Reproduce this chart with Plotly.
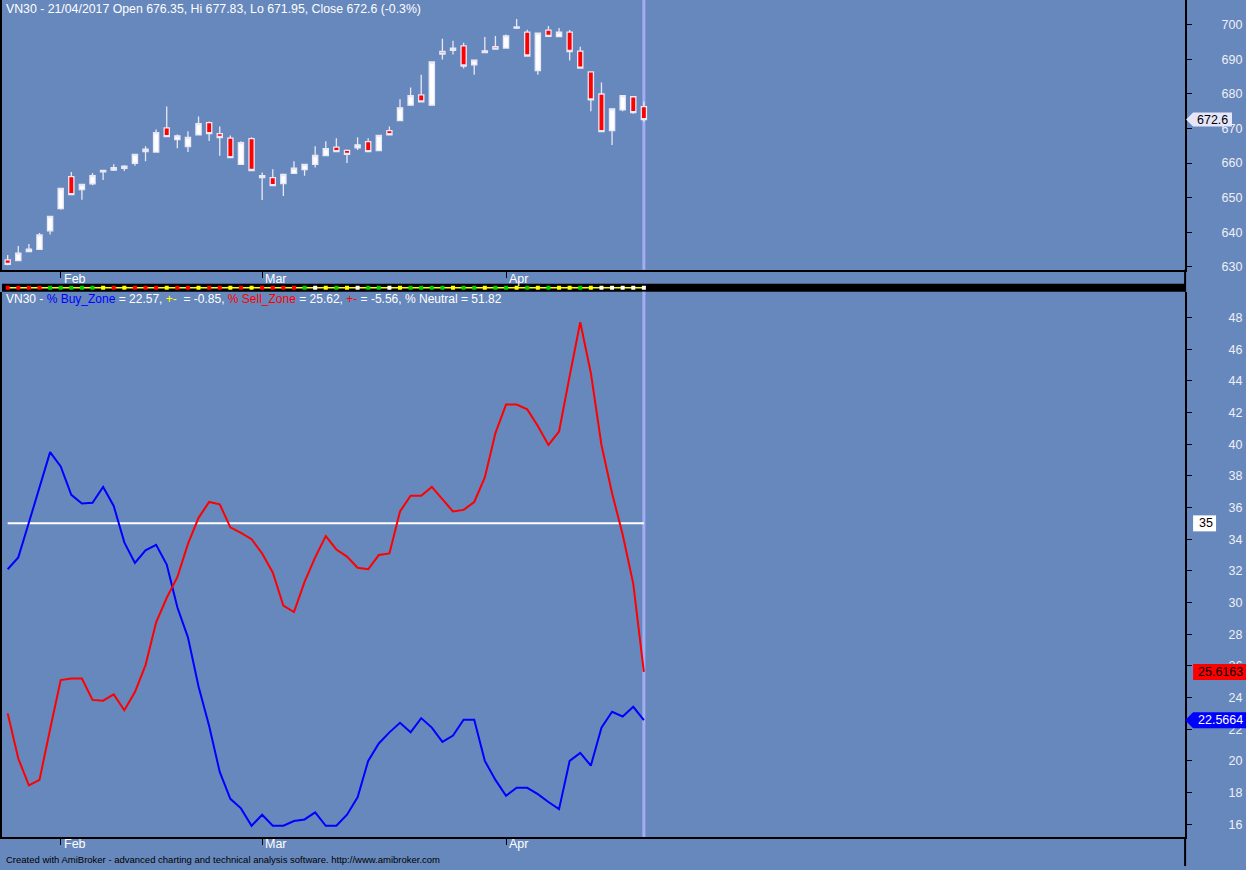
import plotly.graph_objects as go

W, H = 1246, 870

symbol = "VN30"
date_str = "21/04/2017"
month_labels = ["Feb", "Mar", "Apr"]
month_start = [5, 24, 47]

opens = [632.0, 631.8, 634.4, 635.0, 640.4, 646.8, 656.1, 652.3, 654.0, 657.45,
         658.0, 658.5, 659.9, 664.0, 663.2, 670.2, 666.8, 664.8, 668.2, 671.7,
         668.5, 667.2, 659.6, 667.1, 656.4, 655.8, 654.1, 657.0, 658.1, 659.6,
         662.2, 664.6, 663.7, 664.4, 666.2, 663.6, 669.4, 672.3, 676.75, 679.75,
         676.75, 692.3, 692.6, 693.9, 688.4, 692.0, 693.7, 693.3, 699.05, 697.9,
         686.8, 698.5, 696.6, 697.9, 692.4, 686.4, 680.0, 669.4, 675.4, 679.2,
         676.35]
highs = [633.4, 636.0, 636.6, 639.8, 644.6, 652.8, 657.4, 653.9, 657.1, 658.0,
         659.7, 659.4, 662.6, 664.85, 669.7, 676.4, 668.3, 669.2, 673.5, 672.05,
         670.6, 668.0, 666.3, 667.45, 657.3, 658.2, 657.0, 660.5, 659.6, 664.85,
         666.3, 667.2, 663.9, 667.5, 667.2, 668.0, 670.6, 678.5, 681.85, 685.6,
         689.25, 696.0, 695.4, 694.8, 689.8, 696.5, 696.8, 697.2, 701.7, 698.6,
         697.6, 699.7, 699.1, 698.5, 693.7, 686.4, 683.3, 675.7, 679.5, 679.2,
         677.83]
lows = [630.4, 631.6, 634.3, 635.0, 639.3, 646.5, 650.9, 649.4, 653.6, 655.1,
        657.7, 657.7, 659.2, 660.5, 663.2, 667.6, 664.3, 663.2, 668.2, 666.4,
        662.1, 661.6, 659.6, 657.8, 649.3, 653.5, 650.5, 657.0, 656.3, 658.7,
        662.2, 663.3, 660.0, 663.8, 663.3, 663.6, 668.2, 672.3, 676.75, 677.7,
        676.75, 690.0, 691.4, 687.4, 685.6, 692.0, 693.0, 693.3, 698.8, 691.0,
        685.6, 696.7, 696.6, 689.7, 687.5, 675.0, 669.1, 665.2, 675.0, 674.3,
        671.95]
closes = [630.7, 633.9, 635.1, 639.2, 644.6, 652.7, 650.9, 653.8, 656.4, 657.9,
          658.7, 659.1, 662.5, 663.3, 668.8, 667.65, 667.9, 667.4, 671.4, 668.5,
          667.4, 661.6, 665.9, 657.85, 655.8, 653.5, 656.7, 658.5, 659.6, 662.2,
          664.2, 663.3, 662.5, 665.3, 663.3, 668.0, 668.2, 676.0, 679.5, 677.7,
          689.25, 691.55, 693.3, 688.1, 689.8, 692.5, 693.0, 696.8, 699.4, 691.0,
          697.6, 696.7, 697.9, 692.3, 687.5, 678.3, 669.1, 675.7, 679.5, 674.6,
          672.6]

buy_zone = [32.1, 32.85, 35.05, 37.25, 39.5, 38.6, 36.8, 36.25, 36.3, 37.3,
            36.1, 33.8, 32.5, 33.3, 33.65, 32.4, 29.7, 27.8, 24.7, 22.2,
            19.3, 17.6, 17.0, 15.9, 16.6, 15.9, 15.9, 16.2, 16.3, 16.75,
            15.9, 15.9, 16.6, 17.7, 20.0, 21.1, 21.8, 22.4, 21.8, 22.7,
            22.1, 21.2, 21.6, 22.6, 22.6, 20.0, 18.8, 17.8, 18.3, 18.3,
            17.9, 17.4, 16.95, 20.0, 20.5, 19.7, 22.1, 23.1, 22.8, 23.4164,
            22.5664]
sell_zone = [23.0, 20.15, 18.45, 18.8, 22.0, 25.1, 25.2, 25.2, 23.85, 23.8,
             24.2, 23.2, 24.35, 26.05, 28.75, 30.3, 31.6, 33.7, 35.35, 36.35,
             36.2, 34.75, 34.4, 34.0, 33.1, 31.9, 29.8, 29.4, 31.3, 32.85,
             34.2, 33.35, 32.9, 32.2, 32.1, 33.0, 33.1, 35.75, 36.75, 36.75,
             37.3, 36.5, 35.75, 35.85, 36.35, 37.9, 40.7, 42.5, 42.5, 42.2,
             41.15, 39.95, 40.8, 44.3, 47.7, 44.5, 39.95, 36.9, 34.3, 31.1763,
             25.6163]
level = 35

strip_colors = ["r", "r", "r", "r", "g", "g", "g", "g", "g", "y",
                "r", "y", "r", "r", "r", "y", "r", "r", "y", "r",
                "r", "y", "r", "y", "r", "r", "r", "r", "g", "w",
                "y", "g", "y", "w", "g", "g", "w", "y", "g", "g",
                "g", "g", "y", "g", "g", "y", "g", "g", "y", "g",
                "y", "g", "y", "y", "g", "y", "w", "w", "w", "w",
                "w"]
color_map = {"r": "#ff0000", "g": "#00d000", "y": "#ffff00", "w": "#ffffff"}

idx = list(range(len(closes)))

BG = "#6788bc"
FONT = "Liberation Sans, Arial, sans-serif"
TICKCOL = "#eef0f6"


def py(p):
    return 1 - p / H


def px(p):
    return p / W


PLOT_R = 1185
x_range = [-5.7 / 10.62, (PLOT_R - 5.7) / 10.62]

fig = go.Figure()

fig.add_trace(go.Candlestick(
    x=idx, open=opens, high=highs, low=lows, close=closes,
    increasing=dict(fillcolor="#ffffff", line=dict(color="#e8e8f6", width=1.3)),
    decreasing=dict(fillcolor="#ff0000", line=dict(color="#e8e8f6", width=1.3)),
    whiskerwidth=0, xaxis="x", yaxis="y", showlegend=False, hoverinfo="skip"))

fig.add_trace(go.Scatter(x=idx, y=[0.5] * len(idx), mode="lines",
                         line=dict(color="#ffff00", width=1.5),
                         xaxis="x2", yaxis="y2", showlegend=False, hoverinfo="skip"))
fig.add_trace(go.Scatter(x=idx, y=[0.5] * len(idx), mode="markers",
                         marker=dict(symbol="square", size=4,
                                     color=[color_map[c] for c in strip_colors],
                                     line=dict(width=0)),
                         xaxis="x2", yaxis="y2", showlegend=False, hoverinfo="skip"))

fig.add_trace(go.Scatter(x=idx, y=[level] * len(idx), mode="lines",
                         line=dict(color="#ffffff", width=2),
                         xaxis="x3", yaxis="y3", showlegend=False, hoverinfo="skip"))
fig.add_trace(go.Scatter(x=idx, y=buy_zone, mode="lines",
                         line=dict(color="#0000ff", width=2),
                         xaxis="x3", yaxis="y3", showlegend=False, hoverinfo="skip"))
fig.add_trace(go.Scatter(x=idx, y=sell_zone, mode="lines",
                         line=dict(color="#ff0000", width=2),
                         xaxis="x3", yaxis="y3", showlegend=False, hoverinfo="skip"))

xdom = [0, px(PLOT_R)]
xcommon = dict(range=x_range, domain=xdom, showgrid=False, zeroline=False,
               fixedrange=True)

fig.update_layout(
    width=W, height=H, margin=dict(l=0, r=0, t=0, b=0),
    paper_bgcolor=BG, plot_bgcolor=BG,
    font=dict(family=FONT, size=12, color=TICKCOL),
    showlegend=False,
    xaxis=dict(**xcommon, anchor="y", rangeslider=dict(visible=False),
               tickvals=month_start, ticktext=["" for _ in month_start],
               ticks="outside", ticklen=6, tickcolor="#000000", tickwidth=1,
               showline=True, linecolor="#000000", linewidth=2),
    xaxis2=dict(**xcommon, anchor="y2", showticklabels=False, ticks="",
                showline=False),
    xaxis3=dict(**xcommon, anchor="y3",
                tickvals=month_start, ticktext=["" for _ in month_start],
                ticks="outside", ticklen=6, tickcolor="#000000", tickwidth=1,
                showline=True, linecolor="#000000", linewidth=2),
    yaxis=dict(domain=[py(271), 1], range=[629.13, 707.2], side="right",
               anchor="x", tickvals=list(range(630, 701, 10)),
               ticks="outside", ticklen=5, tickcolor="#000000",
               showline=True, linecolor="#000000", linewidth=2, mirror=True,
               showgrid=False, zeroline=False, ticklabelstandoff=27,
               tickfont=dict(color=TICKCOL, size=12.5, family=FONT), fixedrange=True),
    yaxis2=dict(domain=[py(293), py(285)], range=[0, 1], anchor="x2",
                showticklabels=False, showgrid=False, zeroline=False, ticks="",
                fixedrange=True),
    yaxis3=dict(domain=[py(841), py(293)], range=[15.183, 49.635], side="right",
                anchor="x3", tickvals=list(range(16, 49, 2)),
                ticks="outside", ticklen=5, tickcolor="#000000",
                showline=True, linecolor="#000000", linewidth=2, mirror=True,
                showgrid=False, zeroline=False, ticklabelstandoff=34,
                tickfont=dict(color=TICKCOL, size=12.5, family=FONT), fixedrange=True),
)

shapes = []
# strip background
shapes.append(dict(type="rect", xref="paper", yref="paper", x0=0, x1=px(PLOT_R),
                   y0=py(293), y1=py(285), fillcolor="#000000", line=dict(width=0),
                   layer="below"))
# right axis continuation lines
shapes.append(dict(type="line", xref="paper", yref="paper", x0=px(PLOT_R), x1=px(PLOT_R),
                   y0=py(293), y1=py(271), line=dict(color="#000000", width=2)))
shapes.append(dict(type="line", xref="paper", yref="paper", x0=px(PLOT_R), x1=px(PLOT_R),
                   y0=0, y1=py(841), line=dict(color="#000000", width=2)))
# cursor lines
for xr, yr in (("x", "y domain"), ("x3", "y3 domain")):
    shapes.append(dict(type="line", xref=xr, yref=yr, x0=idx[-1], x1=idx[-1],
                       y0=0, y1=1, line=dict(color="#a4acf4", width=3), layer="below"))


def tag(yref, yval, left, right, fill, arrow=None, half=8):
    if arrow is None:
        path = (f"M {px(left)},{-half} L {px(right)},{-half} "
                f"L {px(right)},{half} L {px(left)},{half} Z")
    else:
        path = (f"M {px(arrow)},0 L {px(left)},{-half} L {px(right)},{-half} "
                f"L {px(right)},{half} L {px(left)},{half} Z")
    return dict(type="path", xref="paper", yref=yref, ysizemode="pixel",
                yanchor=yval, path=path, fillcolor=fill, line=dict(width=0),
                layer="above")


last_close = closes[-1]
shapes.append(tag("y", last_close, 1193, 1232, "#e6e6fa", arrow=1186, half=7))
shapes.append(tag("y3", level, 1193, 1216, "#ffffff"))
shapes.append(tag("y3", sell_zone[-1], 1193, 1246, "#ff0000"))
shapes.append(tag("y3", buy_zone[-1], 1193, 1246, "#0000ff", arrow=1185))
fig.update_layout(shapes=shapes)

ann = []
prev_close = closes[-2]
pct = (last_close - prev_close) / prev_close * 100
title1 = (f"{symbol} - {date_str} Open {opens[-1]:.2f}, Hi {highs[-1]:.2f}, "
          f"Lo {lows[-1]:.2f}, Close {last_close:g} ({pct:.1f}%)")
ann.append(dict(text=title1, xref="paper", yref="paper", x=px(2), y=py(9),
                xanchor="left", yanchor="middle", showarrow=False,
                font=dict(color="#ffffff", size=12.3, family=FONT)))

b, s = buy_zone[-1], sell_zone[-1]
db, ds = b - buy_zone[-2], s - sell_zone[-2]
neutral = 100 - b - s
title2 = (f"{symbol} - <span style='color:#0000ff'>% Buy_Zone</span> = {b:.2f}, "
          f"<span style='color:#ffff00'>+-</span>  = {db:.2f}, "
          f"<span style='color:#ff0000'>% Sell_Zone</span> = {s:.2f}, "
          f"<span style='color:#ff0000'>+-</span> = {ds:.2f}, % Neutral = {neutral:.2f}")
ann.append(dict(text=title2, xref="paper", yref="paper", x=px(2), y=py(300),
                xanchor="left", yanchor="middle", showarrow=False,
                font=dict(color="#ffffff", size=12, family=FONT)))

for m, i in zip(month_labels, month_start):
    for ypix in (280, 848):
        ann.append(dict(text=m, xref="x", yref="paper", x=i, y=py(ypix),
                        xanchor="left", yanchor="middle", xshift=1, showarrow=False,
                        font=dict(color="#ffffff", size=12.5, family=FONT)))

ann.append(dict(text=f"{last_close:g}", xref="paper", yref="y", x=px(1195), y=last_close,
                xanchor="left", yanchor="middle", showarrow=False,
                font=dict(color="#000000", size=12.5, family=FONT)))
ann.append(dict(text=f"{level}", xref="paper", yref="y3", x=px(1197), y=level,
                xanchor="left", yanchor="middle", showarrow=False,
                font=dict(color="#000000", size=12.5, family=FONT)))
ann.append(dict(text=f"{s:.4f}", xref="paper", yref="y3", x=px(1196), y=s,
                xanchor="left", yanchor="middle", showarrow=False,
                font=dict(color="#000000", size=12.5, family=FONT)))
ann.append(dict(text=f"{b:.4f}", xref="paper", yref="y3", x=px(1196), y=b,
                xanchor="left", yanchor="middle", showarrow=False,
                font=dict(color="#ffffff", size=12.5, family=FONT)))

ann.append(dict(text="Created with AmiBroker - advanced charting and technical analysis software. http://www.amibroker.com",
                xref="paper", yref="paper", x=px(2), y=py(863),
                xanchor="left", yanchor="middle", showarrow=False,
                font=dict(color="#000000", size=9.5, family=FONT)))

fig.update_layout(annotations=ann)

fig.write_html("out.html",
               config={"displayModeBar": False, "staticPlot": True},
               post_script="document.body.style.margin='0';document.body.style.overflow='hidden';")
